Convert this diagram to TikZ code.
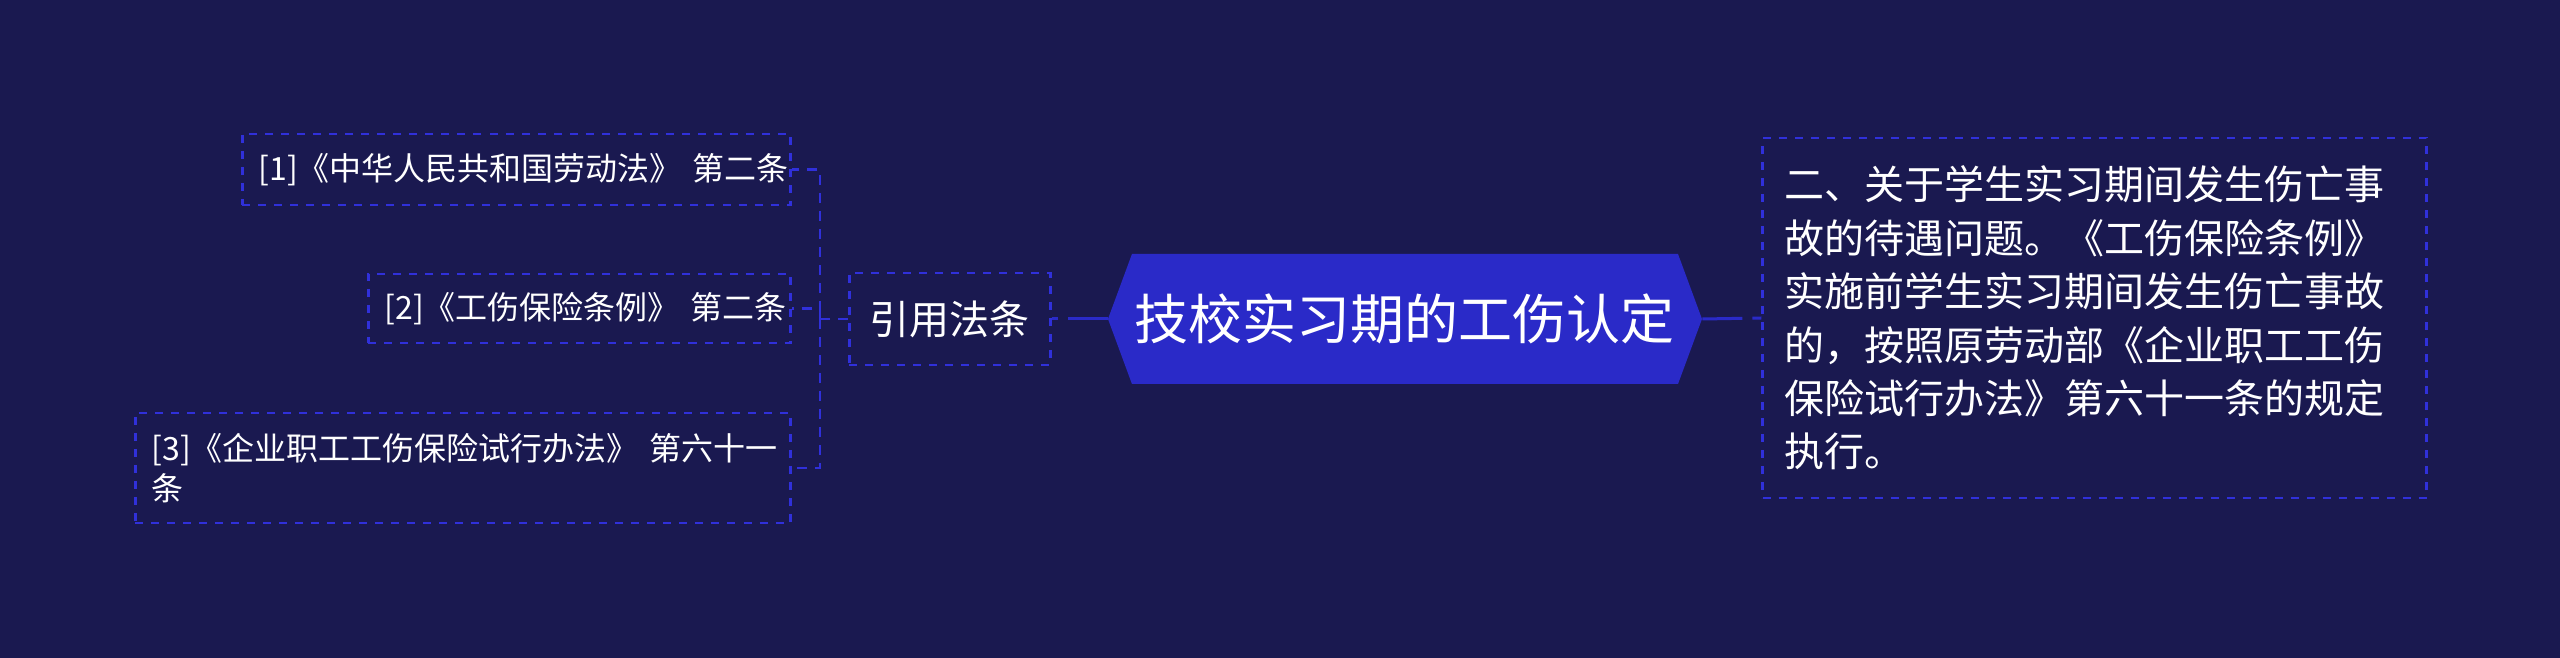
\documentclass[tikz,border=0pt]{standalone}
\usepackage{fontspec}
\setmainfont{Noto Sans CJK SC}
\usepackage{tikz}
\usetikzlibrary{shapes.symbols}

\definecolor{bgblue}{RGB}{26,25,80}
\definecolor{topicblue}{RGB}{42,42,200}
\definecolor{lineblue}{RGB}{48,48,218}

\begin{document}
\begin{tikzpicture}[node distance=80mm,
	topic node/.style={signal,signal to=west and east,signal pointer angle=139.5,fill=topicblue,text=white,inner sep=0pt,minimum width=297pt,minimum height=65pt,font=\fontsize{27pt}{32pt}\selectfont},
	branch node/.style={draw=lineblue,line width=1.3pt,dash pattern=on 4pt off 4pt,text=white,inner sep=0pt,minimum width=100.5pt,minimum height=46pt,font=\fontsize{20pt}{24pt}\selectfont},
	law node/.style={draw=lineblue,line width=1.3pt,dash pattern=on 4pt off 4pt,text=white,inner xsep=8pt,inner ysep=0pt,align=left,font=\fontsize{16pt}{20pt}\selectfont},
	note node/.style={draw=lineblue,line width=1.3pt,dash pattern=on 4pt off 4pt,text=white,inner xsep=10.75pt,inner ysep=0pt,text width=310.5pt,minimum height=180pt,align=left,font=\fontsize{20pt}{26.7pt}\selectfont},
	link/.style={draw=topicblue,line width=1.5pt,dash pattern=on 20pt off 5pt on 5pt off 0pt},
	dash link/.style={draw=lineblue,line width=1.3pt,dash pattern=on 5pt off 4pt}
]
	\fill[bgblue] (-702.5pt,-169.5pt) rectangle (577.5pt,159.5pt);

	\node[topic node] (C) {技校实习期的工伤认定};

	\node[branch node, left of=C] (R) {引用法条};
	\node[note node, right of=C,xshift=117.2pt,yshift=0.5pt] (T) {二、关于学生实习期间发生伤亡事\\故的待遇问题。《工伤保险条例》\\实施前学生实习期间发生伤亡事故\\的，按照原劳动部《企业职工工伤\\保险试行办法》第六十一条的规定\\执行。};

	\node[law node, left of=R,xshift=11pt,yshift=74.75pt,text width=258pt,minimum height=35.5pt] (L1) {[1]《中华人民共和国劳动法》~第二条};
	\node[law node, left of=R,xshift=42.5pt,yshift=5.25pt,text width=195pt,minimum height=34.5pt] (L2) {[2]《工伤保险条例》~第二条};
	\node[law node, left of=R,xshift=-15.75pt,yshift=-74.5pt,text width=311.5pt,minimum height=55pt] (L3) {[3]《企业职工工伤保险试行办法》~第六十一\\条};

	\draw[link] (C.west) -- (R.east);
	\draw[link] (C.east) -- (T.west);

	\draw[dash link] (R.west) -- ++(-14pt,0) coordinate (J) |- (L1.east);
	\draw[dash link] (J) |- (L2.east);
	\draw[dash link] (J) |- (L3.east);

\end{tikzpicture}
\end{document}
